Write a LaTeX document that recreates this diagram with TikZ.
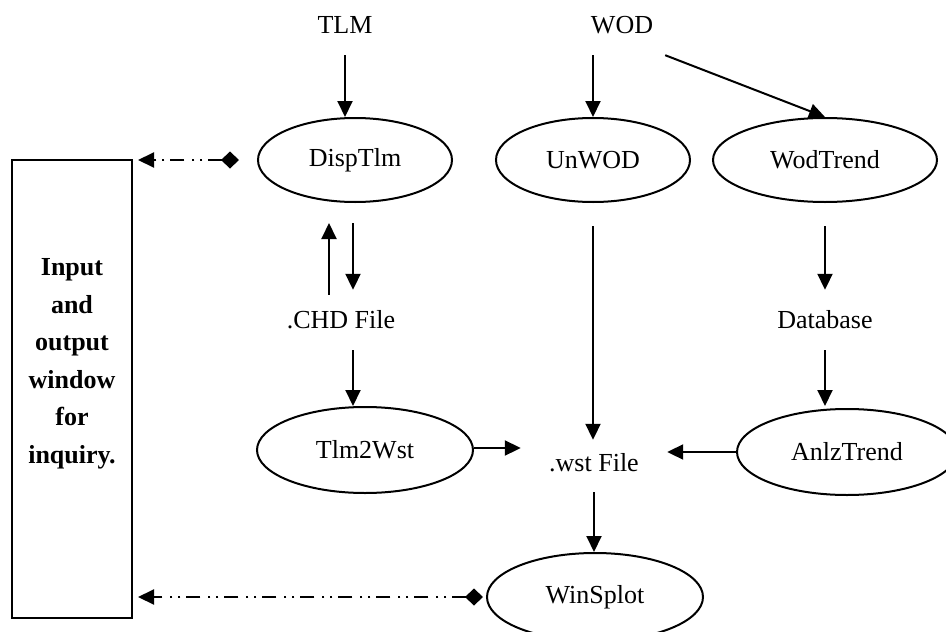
\documentclass[tikz,border=0pt]{standalone}
\usepackage{fontspec}
\setmainfont{Liberation Serif}
\usetikzlibrary{arrows.meta,shapes.geometric,calc}
\begin{document}
\begin{tikzpicture}[x=1pt,y=-1pt,
  every node/.style={font=\fontsize{26}{31}\selectfont},
  proc/.style={ellipse,draw,line width=2pt,inner sep=0pt},
  lbl/.style={inner sep=0pt,minimum height=60pt},
  arr/.style={line width=2pt,-{Triangle[length=16pt,width=15pt]}},
  link/.style={line width=2pt,{Diamond[length=18pt,width=17pt]}-{Triangle[length=16pt,width=15pt]},
    dash pattern=on 14pt off 6pt on 2pt off 6pt on 2pt off 8pt}]
\useasboundingbox (0,0) rectangle (946,632);
\fill[white] (0,0) rectangle (946,632);
% box
\node[draw,line width=2pt,minimum width=120pt,minimum height=458pt,inner sep=0pt] (box) at (72,389) {};
\node[align=center,font=\fontsize{26}{37.5}\selectfont\bfseries] (boxtext) at (72,364)
  {Input\\and\\output\\window\\for\\inquiry.};
% sources
\node[lbl] (tlm) at (345,25) {TLM};
\node[lbl,minimum width=86pt] (wod) at (622,25) {WOD};
% processes
\node[proc,minimum width=194pt,minimum height=84pt] (disp) at (355,160) {DispTlm};
\node[proc,minimum width=194pt,minimum height=84pt] (unwod) at (593,160) {UnWOD};
\node[proc,minimum width=224pt,minimum height=84pt] (wodtrend) at (825,160) {WodTrend};
\node[lbl] (chd) at (341,320) {.CHD File};
\node[lbl] (db) at (825,320) {Database};
\node[proc,minimum width=216pt,minimum height=86pt] (tlmw) at (365,450) {Tlm2Wst};
\node[inner sep=0pt,minimum width=146pt,minimum height=46pt] (wst) at (594,463) {.wst File};
\node[proc,minimum width=220pt,minimum height=86pt] (anlz) at (847,452) {AnlzTrend};
\node[proc,minimum width=216pt,minimum height=88pt] (wins) at (595,597) {WinSplot};
% connectors
\draw[arr] (tlm.south) -- (tlm.south |- disp.north);
\draw[arr] (wod.south -| unwod.north) -- (unwod.north);
\draw[arr] (wod.south east) -- (wodtrend.north);
\draw[arr,shorten >=20pt] ([xshift=-12pt,yshift=-5pt]chd.north) -- ([xshift=-12pt]chd.north |- disp.south);
\draw[arr,shorten <=20pt] ([xshift=12pt]disp.south -| chd.north) -- ([xshift=12pt]chd.north);
\draw[arr] ([xshift=12pt]chd.south) -- ([xshift=12pt]chd.south |- tlmw.north);
\draw[arr,shorten <=23pt] (unwod.south) -- (unwod.south |- wst.north);
\draw[arr,shorten <=23pt] (wodtrend.south) -- (wodtrend.south |- db.north);
\draw[arr] (db.south) -- ([yshift=2pt]db.south |- anlz.north);
\draw[arr] ([yshift=2pt]tlmw.east) -- ([yshift=2pt]tlmw.east -| wst.west);
\draw[arr] (anlz.west) -- (anlz.west -| wst.east);
\draw[arr,shorten <=6pt] (wst.south) -- (wst.south |- wins.north);
\draw[link,shorten <=18pt,shorten >=5pt] (disp.west) -- (disp.west -| box.east);
\draw[link,shorten <=3pt,shorten >=5pt] (wins.west) -- (wins.west -| box.east);
\end{tikzpicture}
\end{document}
